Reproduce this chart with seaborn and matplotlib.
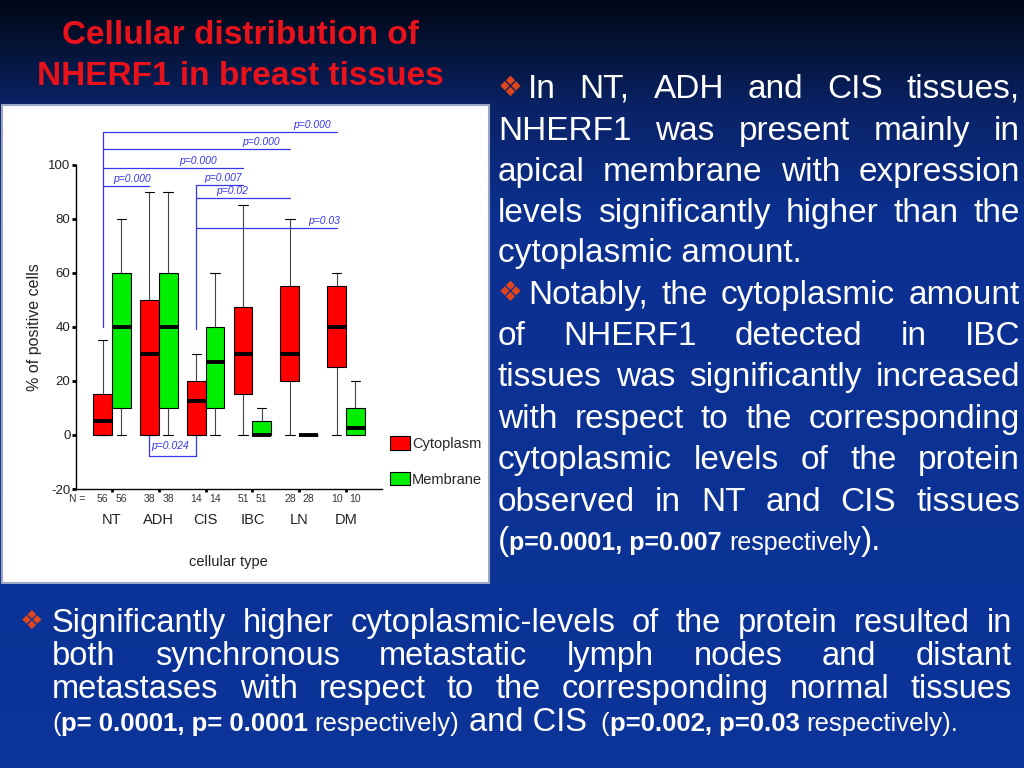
import numpy as np
import pandas as pd
import matplotlib
matplotlib.use("Agg")
import matplotlib.pyplot as plt
from matplotlib.patches import Rectangle, Patch
from matplotlib.colors import to_rgb
import seaborn as sns

# box values: whisker low, q1, median, q3, whisker high
cell_types = ["NT", "ADH", "CIS", "IBC", "LN", "DM"]
locations = ["Cytoplasm", "Membrane"]
n_counts = [56, 38, 14, 51, 28, 10]

cyto_low = [0, 0, 0, 0, 0, 0]
cyto_q1 = [0, 0, 0, 15, 20, 25]
cyto_med = [5, 30, 12.5, 30, 30, 40]
cyto_q3 = [15, 50, 20, 47.5, 55, 55]
cyto_high = [35, 90, 30, 85, 80, 60]

memb_low = [0, 0, 0, 0, 0, 0]
memb_q1 = [10, 10, 10, 0, 0, 0]
memb_med = [40, 40, 27, 0, 0, 2.5]
memb_q3 = [60, 60, 40, 5, 0, 10]
memb_high = [80, 90, 60, 10, 0, 20]

# cytoplasm vs cytoplasm comparisons drawn above the boxes
pair_from = ["NT", "NT", "NT", "NT", "CIS", "CIS", "CIS"]
pair_to = ["DM", "LN", "IBC", "ADH", "IBC", "LN", "DM"]
pair_p = ["p=0.000", "p=0.000", "p=0.000", "p=0.000", "p=0.007", "p=0.02", "p=0.03"]
low_pair = ("ADH", "CIS")
low_p = "p=0.024"

W, H = 1024, 768


def fx(px):
    return px / W


def fy(py):
    return 1 - py / H


sns.set_theme(style="white")
plt.rcParams["font.family"] = ["Liberation Sans", "DejaVu Sans"]
plt.rcParams["axes.unicode_minus"] = False
BODY = ["Liberation Sans", "DejaVu Sans"]

fig = plt.figure(figsize=(10.24, 7.68), dpi=100)

# slide background
bg = fig.add_axes([0, 0, 1, 1], zorder=-5)
stops_y = [0, 40, 110, 220, H]
stops_c = [to_rgb(c) for c in ["#000616", "#041232", "#0a2368", "#0b3090", "#0b3499"]]
rows_px = np.arange(H)
grad = np.stack([np.interp(rows_px, stops_y, [c[k] for c in stops_c]) for k in range(3)], axis=-1)
bg.imshow(grad[:, None, :], aspect="auto", extent=[0, 1, 0, 1])
bg.set_xlim(0, 1)
bg.set_ylim(0, 1)
bg.set_axis_off()

fig.add_artist(Rectangle((fx(2), fy(583)), fx(489) - fx(2), fy(105) - fy(583),
                         transform=fig.transFigure, facecolor="white",
                         edgecolor="#9aa6c4", lw=1.5, zorder=-1))

# chart
ax = fig.add_axes([fx(76), fy(489), fx(382) - fx(76), (489 - 112) / H])
ax.patch.set_alpha(0)

records = []
for i, ct in enumerate(cell_types):
    for loc, stats in (("Cytoplasm", (cyto_low, cyto_q1, cyto_med, cyto_q3, cyto_high)),
                       ("Membrane", (memb_low, memb_q1, memb_med, memb_q3, memb_high))):
        for s in stats:
            records.append({"cellular type": ct, "location": loc, "pct": s[i]})
df = pd.DataFrame(records)

sns.boxplot(data=df, x="cellular type", y="pct", hue="location",
            order=cell_types, hue_order=locations,
            palette={"Cytoplasm": "#ff0000", "Membrane": "#00ee00"},
            saturation=1, width=0.8, gap=0, whis=(0, 100),
            linecolor="black", linewidth=0.8, showfliers=False, legend=False,
            medianprops={"linewidth": 2.8, "color": "black"},
            whiskerprops={"color": "#444444"}, ax=ax)

ax.set_xlim(-0.77, 5.77)
ax.set_ylim(-20, 119.6)
ax.set_yticks([-20, 0, 20, 40, 60, 80, 100])
sns.despine(ax=ax)
ax.spines["left"].set_bounds(-20, 100)
for side in ("left", "bottom"):
    ax.spines[side].set_color("black")
    ax.spines[side].set_linewidth(1)
ax.tick_params(axis="y", direction="out", length=3, width=2, labelsize=9.5,
               pad=1, left=True, color="black", labelcolor="#222222")
ax.tick_params(axis="x", direction="out", length=2.5, width=2, labelsize=10.5,
               pad=15, bottom=True, color="black", labelcolor="#222222")

ax.set_xlabel("cellular type", fontsize=10.5, color="#222222")
ax.xaxis.set_label_coords(0.497, -0.176)
ax.set_ylabel("% of positive cells", fontsize=11.5, color="#222222")
ax.yaxis.set_label_coords(-0.112, 0.43)

# N row
xt = ax.get_xaxis_transform()
ax.text(-0.75, -0.0265, "N =", transform=xt, ha="center", va="center", fontsize=7.5, color="#333333")
for i, n in enumerate(n_counts):
    for off in (-0.2, 0.2):
        ax.text(i + off, -0.0265, str(n), transform=xt, ha="center", va="center",
                fontsize=7.5, color="#333333")

handles = [Patch(facecolor=c, edgecolor="black", lw=0.8, label=l)
           for l, c in zip(locations, ["#ff0000", "#00ee00"])]
ax.legend(handles=handles, loc="upper left", bbox_to_anchor=(1.026, 0.1406),
          frameon=False, fontsize=10.5, handlelength=1.4, handleheight=1.05,
          handletextpad=0.12, labelspacing=1.45, borderaxespad=0, borderpad=0)

# significance brackets
blue = "#3535ee"
pos = {ct: i - 0.2 for i, ct in enumerate(cell_types)}
levels = [112.2, 105.9, 98.9, 92.2, 92.6, 87.8, 76.7]
label_right = [4.68, 3.59, 2.24, 0.83, 2.78, 2.91, 4.87]
for a, b, p, lvl, lx in zip(pair_from, pair_to, pair_p, levels, label_right):
    ax.plot([pos[a], pos[b]], [lvl, lvl], color=blue, lw=0.9, clip_on=False)
    ax.text(lx, lvl + 0.7, p, ha="right", va="bottom", fontsize=7.5,
            style="italic", color=blue)
ax.plot([pos["NT"], pos["NT"]], [40, 112.2], color=blue, lw=0.9)
ax.plot([pos["CIS"], pos["CIS"]], [39.3, 92.6], color=blue, lw=0.9)
la, lb = pos[low_pair[0]], pos[low_pair[1]]
ax.plot([la, la, lb, lb], [-0.4, -7.8, -7.8, -0.4], color=blue, lw=0.9)
ax.text(la + 0.03, -4.1, low_p, ha="left", va="center", fontsize=7.5,
        style="italic", color=blue)

# slide text
renderer = fig.canvas.get_renderer()


def width_of(t):
    return t.get_window_extent(renderer).width


def space_px(size, weight="normal"):
    a = fig.text(0, 0, "n n", fontsize=size, family=BODY, fontweight=weight)
    b = fig.text(0, 0, "nn", fontsize=size, family=BODY, fontweight=weight)
    w = width_of(a) - width_of(b)
    a.remove()
    b.remove()
    return w


def justified(line, x0, x1, y, size):
    words = line.split()
    arts = [fig.text(0, fy(y), w, fontsize=size, family=BODY, color="white",
                     va="baseline") for w in words]
    ws = [width_of(a) for a in arts]
    gap = (x1 - x0 - sum(ws)) / (len(words) - 1)
    x = x0
    for a, w in zip(arts, ws):
        a.set_x(fx(x))
        x += w + gap


def runs_line(runs, x0, y):
    x = x0
    for text, size, weight, spaces in runs:
        x += spaces * space_px(size, weight)
        t = fig.text(fx(x), fy(y), text, fontsize=size, fontweight=weight,
                     family=BODY, color="white", va="baseline")
        x += width_of(t)


def bullet(x, y, size):
    fig.text(fx(x), fy(y), "\u2756", fontsize=size, family="DejaVu Sans",
             color="#e0461e", va="center")


fig.text(fx(240), fy(44), "Cellular distribution of", ha="center", va="baseline",
         fontsize=24, fontweight="bold", color="#e8121b", family=BODY)
fig.text(fx(240), fy(85), "NHERF1 in breast tissues", ha="center", va="baseline",
         fontsize=24, fontweight="bold", color="#e8121b", family=BODY)

rs = 24
bullet(498, 88, 20)
justified("In NT, ADH and CIS tissues,", 528, 1020, 98, rs)
justified("NHERF1 was present mainly in", 498, 1020, 140, rs)
justified("apical membrane with expression", 498, 1020, 181, rs)
justified("levels significantly higher than the", 498, 1020, 222, rs)
runs_line([("cytoplasmic amount.", rs, "normal", 0)], 498, 262)
bullet(498, 293, 20)
justified("Notably, the cytoplasmic amount", 528, 1020, 304, rs)
justified("of NHERF1 detected in IBC", 498, 1020, 345, rs)
justified("tissues was significantly increased", 498, 1020, 386, rs)
justified("with respect to the corresponding", 498, 1020, 428, rs)
justified("cytoplasmic levels of the protein", 498, 1020, 469, rs)
justified("observed in NT and CIS tissues", 498, 1020, 511, rs)
runs_line([("(", rs, "normal", 0),
           ("p=0.0001, p=0.007", 18, "bold", 0),
           ("respectively", 18, "normal", 1),
           (").", rs, "normal", 0)], 498, 550)

bs = 23.5
ss = 18.5
bullet(20, 622, 19)
justified("Significantly higher cytoplasmic-levels of the protein resulted in", 52, 1012, 632, bs)
justified("both synchronous metastatic lymph nodes and distant", 52, 1012, 665, bs)
justified("metastases with respect to the corresponding normal tissues", 52, 1012, 698, bs)
runs_line([("(", ss, "normal", 0),
           ("p= 0.0001, p= 0.0001", ss, "bold", 0),
           ("respectively)", ss, "normal", 1),
           ("and CIS", bs, "normal", 1),
           ("(", ss, "normal", 2),
           ("p=0.002, p=0.03", ss, "bold", 0),
           ("respectively).", ss, "normal", 1)], 52, 731)

fig.savefig("out.png", dpi=100)
